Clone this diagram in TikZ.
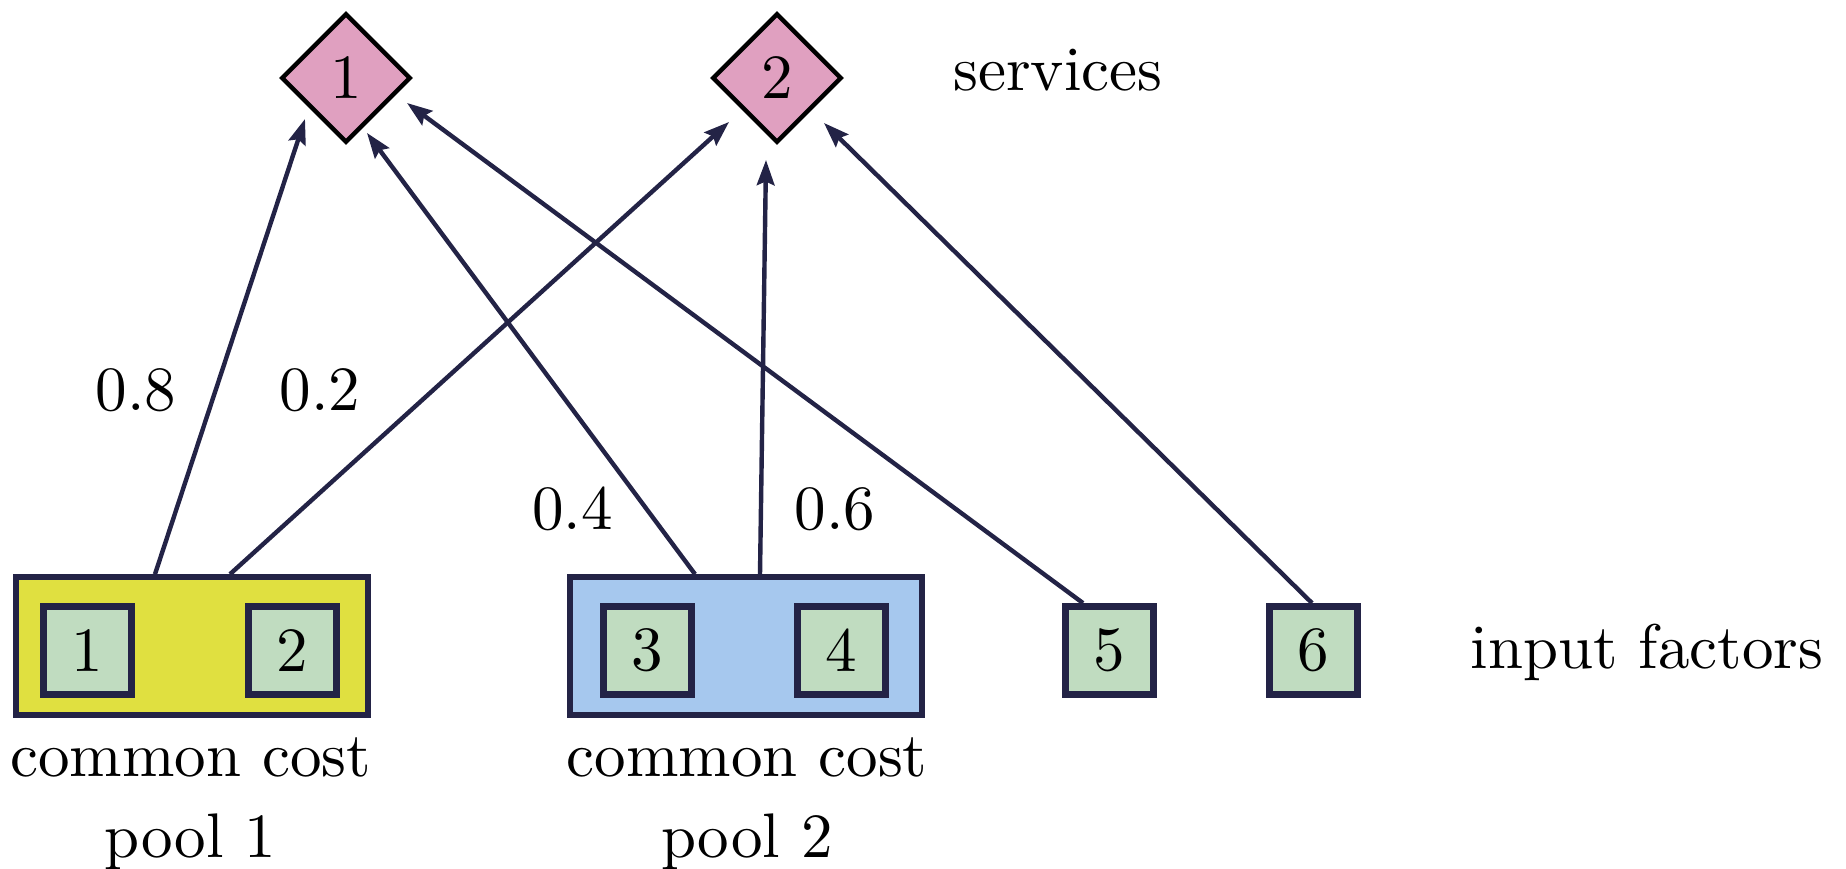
\documentclass[tikz,border=0pt]{standalone}
\usepackage{amsmath}
\usepackage{tikz}
\usepackage{xcolor}
\usetikzlibrary{shapes.geometric,arrows.meta}

\definecolor{navy}{RGB}{35,35,70}
\definecolor{poolyellow}{RGB}{224,224,64}
\definecolor{poolblue}{RGB}{166,200,238}
\definecolor{factorgreen}{RGB}{192,220,192}
\definecolor{servicepink}{RGB}{224,160,192}

\begin{document}
\begin{tikzpicture}[x=15.873pt, y=-15.873pt,
                    service/.style={diamond, draw=black, line width=0.7pt, fill=servicepink,
                                    minimum width=20.5pt, minimum height=20.5pt, inner sep=0pt},
                    pool/.style={rectangle, draw=navy, line width=0.9pt,
                                 minimum width=55.9pt, minimum height=21.9pt},
                    factor/.style={rectangle, draw=navy, line width=1.05pt, fill=factorgreen,
                                   minimum size=14pt, inner sep=0pt},
                    caption/.style={align=center, anchor=north, inner sep=0pt},
                    flow/.style={draw=navy, line width=0.7pt,
                                 -{Stealth[length=4pt, width=2.8pt, inset=0.6pt]}}]
                    \useasboundingbox (0,0) rectangle (18.46,8.69);

                    % services
                    \node[service] (S1) at (3.46,0.78) {1};
                    \node[service] (S2) at (7.77,0.78) {2};
                    \node[anchor=base] (ST) at (10.58,0.91) {services};

                    % cost pools
                    \node[pool, fill=poolyellow] (P1) at (1.92,6.46) {};
                    \node[pool, fill=poolblue]   (P2) at (7.46,6.46) {};
                    \node[caption] (C1) at (1.905,7.36) {common cost\\[1pt]pool 1};
                    \node[caption] (C2) at (7.47,7.36)  {common cost\\[1pt]pool 2};

                    % input factors
                    \node[factor] (F1) at (0.875,6.505) {1};
                    \node[factor] (F2) at (2.925,6.505) {2};
                    \node[factor] (F3) at (6.475,6.505) {3};
                    \node[factor] (F4) at (8.415,6.505) {4};
                    \node[factor] (F5) at (11.095,6.505) {5};
                    \node[factor] (F6) at (13.135,6.505) {6};
                    \node[anchor=base] (FT) at (16.47,6.68) {input factors};

                    % shares
                    \node (W1) at (1.36,3.90) {0.8};
                    \node (W2) at (3.20,3.90) {0.2};
                    \node (W3) at (5.725,5.09) {0.4};
                    \node (W4) at (8.35,5.09) {0.6};

                    \draw[flow] ([shift={(-0.37,0)}]P1.north) -- ([shift={(-0.41,0.41)}]S1.center);
                    \draw[flow] ([shift={(0.38,0)}]P1.north)  -- ([shift={(-0.48,0.44)}]S2.center);
                    \draw[flow] ([shift={(-0.51,0)}]P2.north) -- ([shift={(0.21,0.55)}]S1.center);
                    \draw[flow] ([shift={(0.14,0)}]P2.north)  -- ([shift={(-0.11,0.82)}]S2.center);
                    \draw[flow] ([shift={(-0.265,0)}]F5.north) -- ([shift={(0.61,0.25)}]S1.center);
                    \draw[flow] ([shift={(-0.015,0)}]F6.north) -- ([shift={(0.47,0.45)}]S2.center);
                \end{tikzpicture}
\end{document}
